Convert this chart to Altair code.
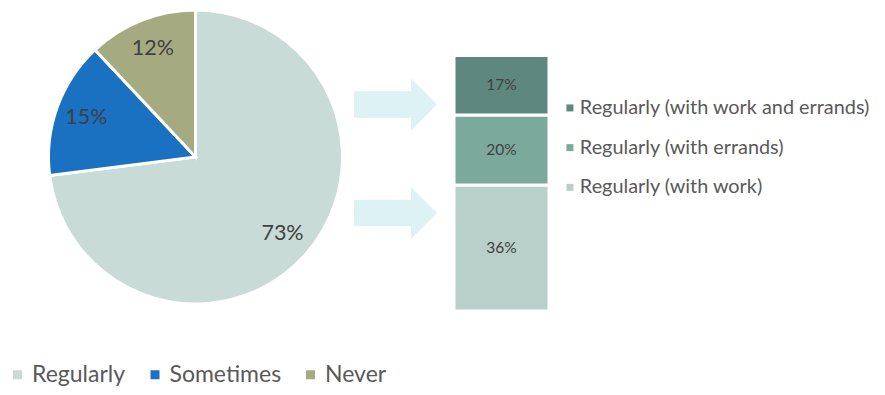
import altair as alt
import pandas as pd

FONT = "Lato"

# ---- data ----
pie_cats = ["Regularly", "Sometimes", "Never"]
pie_vals = [73, 15, 12]
pie_colors = ["#C9DBD7", "#1A70C1", "#A5AA81"]

bar_cats = ["Regularly (with work)", "Regularly (with errands)", "Regularly (with work and errands)"]
bar_vals = [36, 20, 17]
bar_colors = ["#B9CFC9", "#7BA99C", "#5E887D"]

arrow_levels = [59, 28]  # level (in stacked-bar units) each arrow points at

# ---- tables ----
pie_df = pd.DataFrame({
    "cat": pie_cats,
    "value": pie_vals,
    "order": list(range(len(pie_cats))),
    "label": [f"{v}%" for v in pie_vals],
})
bar_df = pd.DataFrame({
    "slot": ["bar"] * len(bar_cats),
    "cat": bar_cats,
    "value": bar_vals,
    "order": list(range(len(bar_cats))),
    "label": [f"{v}%" for v in bar_vals],
})
arrow_df = pd.DataFrame({"slot": ["arrow"] * len(arrow_levels), "level": arrow_levels})

# ---- pie ----
pie_base = alt.Chart(pie_df).encode(
    theta=alt.Theta("value:Q", stack=True),
    order=alt.Order("order:Q"),
)
arcs = pie_base.mark_arc(stroke="white", strokeWidth=3).encode(
    color=alt.Color(
        "cat:N",
        scale=alt.Scale(domain=pie_cats, range=pie_colors),
        legend=alt.Legend(
            orient="none", legendX=-42.5, legendY=353, direction="horizontal",
            title=None, symbolType="square", symbolSize=81, symbolStrokeWidth=0,
            labelFont=FONT, labelFontSize=23, labelColor="#595959",
            labelOffset=3, columnPadding=17.5, padding=0, labelLimit=300,
        ),
    )
)
pie_labels = pie_base.mark_text(
    radius=116, font=FONT, fontSize=21.5, color="#404040"
).encode(text="label:N")
pie = (arcs + pie_labels).properties(width=294, height=294)

# ---- stacked bar + arrows ----
x_scale = alt.Scale(domain=["arrow", "bar"], paddingInner=0, paddingOuter=0)
y_scale = alt.Scale(domain=[0, 86])
legend_order = bar_cats[::-1]
legend_colors = bar_colors[::-1]

ARROW = "M -1 -0.32 L 0.373 -0.32 L 0.373 -0.627 L 1 0 L 0.373 0.627 L 0.373 0.32 L -1 0.32 Z"

arrows = alt.Chart(arrow_df).mark_point(
    shape=ARROW, size=6889, filled=True, color="#DCF2F4", strokeWidth=0, opacity=1
).encode(
    x=alt.X("slot:N", scale=x_scale, axis=None),
    y=alt.Y("level:Q", scale=y_scale, axis=None),
)

bars = alt.Chart(bar_df).mark_bar(size=95, stroke="white", strokeWidth=3).encode(
    x=alt.X("slot:N", scale=x_scale, axis=None),
    y=alt.Y("value:Q", stack="zero", scale=y_scale, axis=None),
    color=alt.Color(
        "cat:N",
        scale=alt.Scale(domain=legend_order, range=legend_colors),
        legend=alt.Legend(
            orient="none", legendX=217.5, legendY=88, direction="vertical",
            title=None, symbolType="square", symbolSize=49, symbolStrokeWidth=0,
            labelFont=FONT, labelFontSize=19.85, labelColor="#595959",
            labelOffset=0, rowPadding=18.7, padding=0, labelLimit=400,
        ),
    ),
    order=alt.Order("order:Q"),
)

bar_labels = alt.Chart(bar_df).transform_stack(
    stack="value", as_=["y0", "y1"], groupby=["slot"], sort=[alt.SortField("order")]
).transform_calculate(
    mid="(datum.y0 + datum.y1) / 2"
).mark_text(font=FONT, fontSize=15.5, color="#404040").encode(
    x=alt.X("slot:N", scale=x_scale, axis=None),
    y=alt.Y("mid:Q", scale=y_scale, axis=None),
    text="label:N",
)

bar_panel = (arrows + bars + bar_labels).properties(width=212, height=301)

chart = (
    alt.hconcat(pie, bar_panel, spacing=0, bounds="flush")
    .resolve_scale(color="independent", x="independent", y="independent")
    .resolve_legend(color="independent")
    .properties(padding={"left": -2.5, "top": -4, "right": 0, "bottom": 0})
    .configure(font=FONT, background="white")
    .configure_view(strokeWidth=0, stroke=None)
)

chart.save("out.html", embed_options={"renderer": "svg", "actions": False})
